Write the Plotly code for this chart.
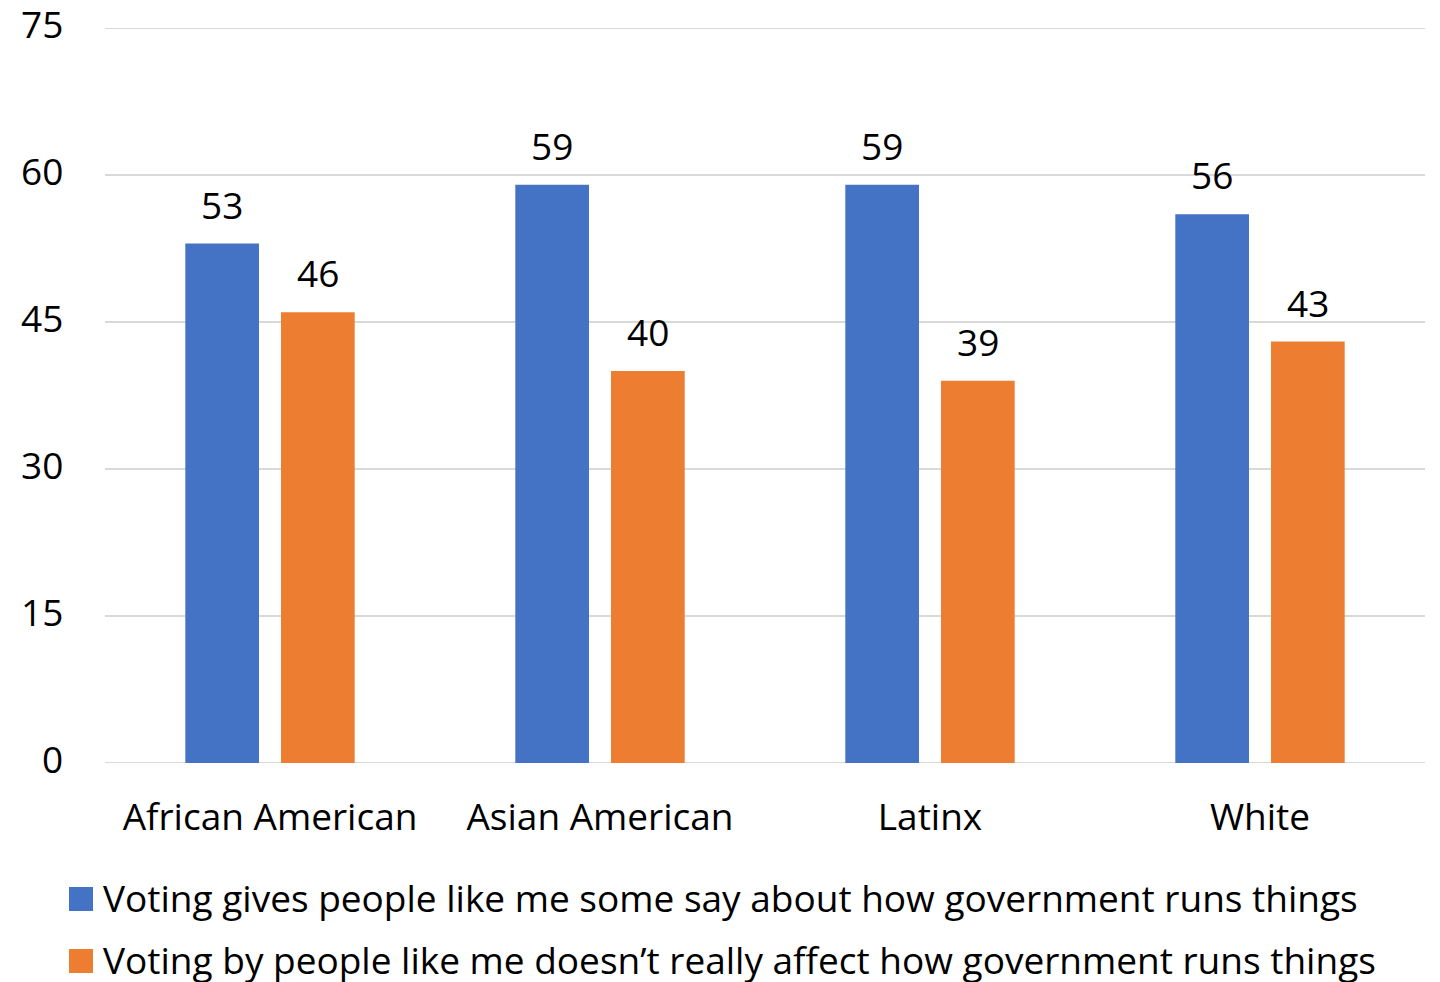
import plotly.graph_objects as go

groups = ["African American", "Asian American", "Latinx", "White"]
series_names = [
    "Voting gives people like me some say about how government runs things",
    "Voting by people like me doesn\u2019t really affect how government runs things",
]
some_say = [53, 59, 59, 56]
no_effect = [46, 40, 39, 43]
y_ticks = [0, 15, 30, 45, 60, 75]

BLUE = "#4472C4"
ORANGE = "#ED7D31"
GRID = "#D9D9D9"
FONT = "Open Sans"
FS = 37

PLOT_TOP, PLOT_BOTTOM = 28, 763
PLOT_H = PLOT_BOTTOM - PLOT_TOP


def paper_y(px):
    return (PLOT_BOTTOM - px) / PLOT_H


def paper_x(px):
    return (px - 105) / 1320


fig = go.Figure()
series = [(series_names[0], some_say, BLUE, -48), (series_names[1], no_effect, ORANGE, 48)]
for name, vals, color, shift in series:
    fig.add_trace(go.Bar(
        x=groups, y=vals, name=name, marker_color=color, marker_line_width=0,
        showlegend=False,
    ))
    # value labels above each bar
    for g, v in zip(groups, vals):
        fig.add_annotation(x=g, y=v, text=str(v), showarrow=False,
                           xshift=shift, yshift=12, yanchor="bottom",
                           font=dict(family=FONT, size=FS, color="black"))

# y-axis labels and gridlines
for t in y_ticks:
    fig.add_annotation(xref="paper", yref="y", x=paper_x(65), y=t, text=str(t),
                       xanchor="right", yanchor="middle", yshift=5, showarrow=False,
                       font=dict(family=FONT, size=FS, color="black"))
    fig.add_shape(type="line", xref="paper", yref="y", x0=0, x1=1, y0=t, y1=t,
                  line=dict(color=GRID, width=2), layer="below")

# Legend drawn as square swatches with text beside them
for i, (name, color) in enumerate([(series_names[0], BLUE), (series_names[1], ORANGE)]):
    yc = 899 + i * 62
    fig.add_shape(type="rect", xref="paper", yref="paper",
                  x0=paper_x(69), x1=paper_x(93),
                  y0=paper_y(yc + 12), y1=paper_y(yc - 12),
                  fillcolor=color, line_width=0)
    fig.add_annotation(text=name, xref="paper", yref="paper",
                       x=paper_x(101), y=paper_y(yc - 2),
                       xanchor="left", yanchor="middle", showarrow=False,
                       font=dict(family=FONT, size=FS, color="black"))

fig.update_layout(
    width=1440, height=982,
    margin=dict(l=105, r=15, t=PLOT_TOP, b=982 - PLOT_BOTTOM),
    paper_bgcolor="white", plot_bgcolor="white",
    barmode="group", bargap=0.42, bargroupgap=0.23,
    font=dict(family=FONT, size=FS, color="black"),
    showlegend=False,
)
fig.update_yaxes(range=[0, 75], tickvals=y_ticks, showgrid=False,
                 zeroline=False, showticklabels=False, showline=False)
fig.update_xaxes(showline=False, ticklabelstandoff=29,
                 tickfont=dict(family=FONT, size=FS, color="black"))

fig.write_html("out.html")
